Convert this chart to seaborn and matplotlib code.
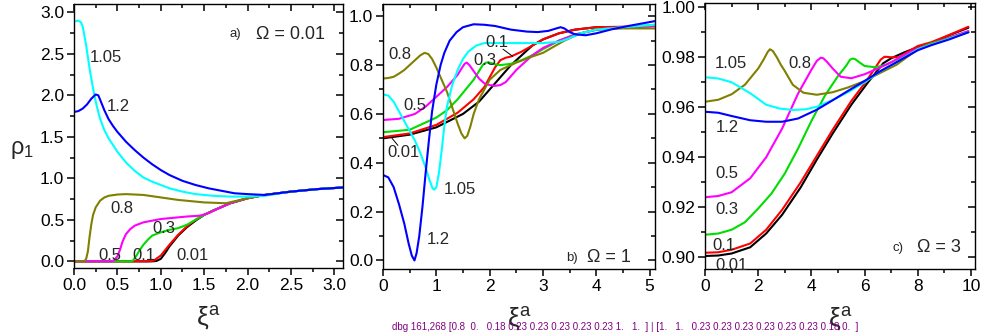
import numpy as np
import pandas as pd
import matplotlib
matplotlib.use("Agg")
import matplotlib.pyplot as plt
import matplotlib.ticker as mticker
import matplotlib.lines as mlines
import seaborn as sns

# curve order and colours (same in every panel)
curve_names = ['0.01', '0.1', '0.3', '0.5', '0.8', '1.05', '1.2']
curve_colors = ['#000000', '#ff0000', '#00dd00', '#ff00ff', '#808000', '#00ffff', '#0000ff']

# ---- panel a) Omega = 0.01 ----
a_x_001 = [0, 0.9, 0.95, 1.0, 1.05, 1.1, 1.2, 1.3, 1.4, 1.5, 1.6, 1.8, 2.0, 2.2, 2.5, 2.8, 3.1]
a_y_001 = [0, 0, 0.005, 0.03, 0.1, 0.18, 0.31, 0.41, 0.49, 0.56, 0.61, 0.70, 0.76, 0.80, 0.84, 0.87, 0.89]
a_x_01 = [0, 0.86, 0.92, 1.0, 1.1, 1.2, 1.3, 1.4, 1.5, 1.6, 1.8, 2.0, 2.2, 2.5, 2.8, 3.1]
a_y_01 = [0, 0, 0.01, 0.07, 0.2, 0.32, 0.42, 0.50, 0.56, 0.61, 0.70, 0.76, 0.80, 0.84, 0.87, 0.89]
a_x_03 = [0, 0.65, 0.68, 0.72, 0.76, 0.8, 0.85, 0.9, 1.0, 1.1, 1.2, 1.3, 1.4, 1.5, 1.6, 1.8, 2.0, 2.2, 2.5, 2.8, 3.1]
a_y_03 = [0, 0, 0.01, 0.07, 0.14, 0.2, 0.26, 0.31, 0.35, 0.38, 0.40, 0.44, 0.50, 0.56, 0.61, 0.70, 0.76, 0.80, 0.84, 0.87, 0.89]
a_x_05 = [0, 0.42, 0.46, 0.5, 0.53, 0.56, 0.6, 0.65, 0.7, 0.8, 0.9, 1.0, 1.1, 1.3, 1.45, 1.55, 1.65, 1.8, 2.0, 2.2, 2.5, 2.8, 3.1]
a_y_05 = [0, 0, 0.01, 0.06, 0.14, 0.24, 0.33, 0.39, 0.43, 0.47, 0.49, 0.51, 0.52, 0.54, 0.55, 0.58, 0.63, 0.70, 0.76, 0.80, 0.84, 0.87, 0.89]
a_x_08 = [0, 0.12, 0.14, 0.16, 0.18, 0.2, 0.22, 0.25, 0.3, 0.35, 0.4, 0.5, 0.6, 0.7, 0.8, 1.0, 1.2, 1.5, 1.75, 2.0, 2.2, 2.5, 2.8, 3.1]
a_y_08 = [0, 0, 0.03, 0.12, 0.3, 0.45, 0.56, 0.65, 0.73, 0.77, 0.79, 0.805, 0.81, 0.805, 0.80, 0.77, 0.74, 0.71, 0.70, 0.76, 0.80, 0.84, 0.87, 0.89]
a_x_105 = [0, 0.05, 0.08, 0.1, 0.12, 0.14, 0.16, 0.18, 0.2, 0.22, 0.24, 0.26, 0.3, 0.35, 0.4, 0.5, 0.6, 0.7, 0.8, 0.9,
           1.0, 1.1, 1.25, 1.4, 1.6, 1.8, 2.0, 2.2, 2.5, 2.8, 3.1]
a_y_105 = [2.89, 2.9, 2.88, 2.83, 2.72, 2.6, 2.46, 2.32, 2.2, 2.08, 1.98, 1.88, 1.72, 1.58, 1.48, 1.32, 1.19, 1.09, 1.01, 0.96,
           0.92, 0.88, 0.84, 0.81, 0.79, 0.78, 0.78, 0.79, 0.84, 0.87, 0.89]
a_x_12 = [0, 0.05, 0.1, 0.15, 0.2, 0.25, 0.28, 0.3, 0.35, 0.4, 0.45, 0.5, 0.6, 0.7, 0.8, 0.9, 1.0, 1.1, 1.25, 1.4, 1.55,
          1.7, 1.85, 2.0, 2.2, 2.5, 2.8, 3.1]
a_y_12 = [1.80, 1.81, 1.84, 1.89, 1.96, 2.01, 2.0, 1.95, 1.82, 1.71, 1.63, 1.56, 1.44, 1.34, 1.25, 1.17, 1.10, 1.04, 0.97, 0.92, 0.88,
          0.85, 0.82, 0.81, 0.80, 0.84, 0.87, 0.89]

# ---- panel b) Omega = 1 ----
b_x_001 = [0, 0.5, 1.0, 1.5, 1.8, 2.0, 2.2, 2.4, 2.6, 2.8, 3.0, 3.3, 3.6, 4.0, 4.5, 5.1]
b_y_001 = [0.50, 0.515, 0.545, 0.60, 0.65, 0.70, 0.75, 0.80, 0.84, 0.88, 0.905, 0.93, 0.945, 0.955, 0.955, 0.96]
b_x_01 = [0, 0.5, 1.0, 1.4, 1.7, 1.9, 2.0, 2.1, 2.2, 2.3, 2.4, 2.6, 2.8, 3.0, 3.3, 3.6, 4.0, 4.5, 5.1]
b_y_01 = [0.505, 0.52, 0.555, 0.605, 0.66, 0.71, 0.75, 0.79, 0.82, 0.83, 0.835, 0.855, 0.88, 0.905, 0.93, 0.945, 0.955, 0.957, 0.96]
b_x_03 = [0, 0.5, 1.0, 1.2, 1.4, 1.55, 1.7, 1.8, 1.87, 1.93, 2.0, 2.1, 2.2, 2.4, 2.6, 2.8, 3.0, 3.3, 3.6, 4.0, 4.5, 5.1]
b_y_03 = [0.525, 0.535, 0.585, 0.615, 0.66, 0.70, 0.74, 0.775, 0.80, 0.81, 0.81, 0.803, 0.80, 0.805, 0.82, 0.84, 0.865, 0.90, 0.925, 0.945, 0.955, 0.965]
b_x_05 = [0, 0.3, 0.6, 0.8, 1.0, 1.2, 1.3, 1.4, 1.47, 1.53, 1.57, 1.62, 1.7, 1.8, 1.9, 2.0, 2.1, 2.2, 2.3, 2.4, 2.5, 2.6,
          2.8, 3.0, 3.3, 3.6, 4.0, 4.5, 5.1]
b_y_05 = [0.575, 0.58, 0.60, 0.63, 0.67, 0.71, 0.735, 0.76, 0.785, 0.805, 0.81, 0.80, 0.775, 0.745, 0.725, 0.718, 0.715, 0.718,
          0.73, 0.755, 0.78, 0.80, 0.84, 0.87, 0.90, 0.925, 0.945, 0.955, 0.96]
b_x_08 = [0, 0.1, 0.2, 0.3, 0.4, 0.5, 0.6, 0.7, 0.78, 0.85, 0.92, 1.0, 1.1, 1.2, 1.3, 1.4, 1.47, 1.53, 1.58, 1.64, 1.7,
          1.8, 1.9, 2.0, 2.2, 2.5, 2.8, 3.0, 3.2, 3.4, 3.6, 3.8, 4.0, 4.5, 5.1]
b_y_08 = [0.745, 0.747, 0.752, 0.765, 0.78, 0.80, 0.82, 0.84, 0.85, 0.845, 0.825, 0.79, 0.74, 0.69, 0.625, 0.56, 0.52, 0.50,
          0.51, 0.55, 0.60, 0.66, 0.70, 0.74, 0.78, 0.81, 0.835, 0.85, 0.875, 0.90, 0.92, 0.935, 0.945, 0.95, 0.95]
b_x_105 = [0, 0.1, 0.2, 0.3, 0.4, 0.5, 0.6, 0.7, 0.8, 0.87, 0.93, 0.96, 1.0, 1.05, 1.1, 1.15, 1.2, 1.3, 1.4, 1.5, 1.6,
           1.75, 1.9, 2.2, 2.6, 3.0, 3.3, 3.5, 3.7, 4.0, 4.5, 5.1]
b_y_105 = [0.68, 0.675, 0.65, 0.61, 0.57, 0.53, 0.49, 0.44, 0.38, 0.33, 0.295, 0.29, 0.30, 0.36, 0.45, 0.55, 0.63, 0.72,
           0.78, 0.825, 0.855, 0.88, 0.89, 0.89, 0.89, 0.89, 0.895, 0.91, 0.93, 0.945, 0.955, 0.965]
b_x_12 = [0, 0.1, 0.2, 0.3, 0.4, 0.48, 0.54, 0.59, 0.63, 0.68, 0.74, 0.8, 0.86, 0.92, 1.0, 1.08, 1.15, 1.25, 1.38, 1.5,
          1.7, 1.9, 2.1, 2.4, 2.7, 2.9, 3.1, 3.25, 3.33, 3.4, 3.5, 3.6, 3.8, 4.0, 4.3, 4.6, 5.1]
b_y_12 = [0.35, 0.34, 0.30, 0.23, 0.15, 0.07, 0.02, 0.0, 0.03, 0.10, 0.22, 0.36, 0.49, 0.61, 0.72, 0.80, 0.85, 0.90, 0.935,
          0.955, 0.967, 0.965, 0.96, 0.945, 0.937, 0.935, 0.94, 0.95, 0.955, 0.95, 0.935, 0.926, 0.922, 0.93, 0.947, 0.96, 0.98]

# ---- panel c) Omega = 3 ----
c_x_001 = [0, 0.5, 1.0, 1.7, 2.3, 2.9, 3.6, 4.2, 4.8, 5.5, 6.1, 6.7, 7.0, 7.5, 8, 8.5, 9.2, 9.9]
c_y_001 = [0.9005, 0.9007, 0.9015, 0.904, 0.9095, 0.917, 0.928, 0.939, 0.9495, 0.961, 0.9696, 0.9776, 0.9796, 0.982, 0.984, 0.9855, 0.9889, 0.9918]
c_x_01 = [0, 0.5, 1.0, 1.7, 2.3, 2.9, 3.6, 4.2, 4.8, 5.5, 6.1, 6.6, 6.75, 7.0, 7.3, 7.6, 8, 8.5, 9.2, 9.9]
c_y_01 = [0.9018, 0.902, 0.903, 0.9055, 0.911, 0.919, 0.930, 0.9405, 0.951, 0.9625, 0.971, 0.979, 0.9802, 0.980, 0.980, 0.982, 0.9845, 0.986, 0.989, 0.9922]
c_x_03 = [0, 0.5, 1.0, 1.5, 2.0, 2.5, 3.0, 3.5, 4.0, 4.5, 5.0, 5.3, 5.45, 5.55, 5.65, 5.8, 6.0, 6.4, 6.8, 7.2, 7.6, 8, 8.5, 9.2, 9.9]
c_y_03 = [0.909, 0.9095, 0.911, 0.914, 0.9195, 0.9255, 0.9335, 0.9435, 0.9545, 0.9645, 0.9725, 0.9765, 0.979, 0.9795, 0.9792,
          0.978, 0.9765, 0.976, 0.977, 0.979, 0.981, 0.9835, 0.9855, 0.9878, 0.990]
c_x_05 = [0, 0.5, 1.0, 1.7, 2.3, 2.9, 3.5, 4.0, 4.2, 4.35, 4.45, 4.6, 4.8, 5.1, 5.5, 6.0, 6.5, 7.0, 7.5, 8, 8.5, 9.2, 9.9]
c_y_05 = [0.924, 0.9245, 0.926, 0.9316, 0.940, 0.9515, 0.9655, 0.975, 0.9785, 0.9798, 0.9796, 0.978, 0.9755, 0.9722, 0.9716,
          0.9732, 0.9755, 0.978, 0.981, 0.9835, 0.985, 0.988, 0.9905]
c_x_08 = [0, 0.5, 1.0, 1.5, 2.0, 2.2, 2.35, 2.44, 2.55, 2.7, 2.85, 3.0, 3.3, 3.7, 4.2, 4.8, 5.4, 6.0, 6.6, 7.2, 8, 8.5, 9.2, 9.9]
c_y_08 = [0.9622, 0.963, 0.9652, 0.969, 0.9755, 0.979, 0.982, 0.9832, 0.9825, 0.980, 0.977, 0.9745, 0.969, 0.9658, 0.965,
          0.966, 0.968, 0.9705, 0.9738, 0.977, 0.9832, 0.985, 0.9878, 0.990]
c_x_105 = [0, 0.5, 1.0, 1.7, 2.3, 2.8, 3.3, 3.8, 4.2, 4.8, 5.4, 6.0, 6.6, 7.2, 8, 8.5, 9.2, 9.9]
c_y_105 = [0.972, 0.9715, 0.970, 0.9656, 0.961, 0.9595, 0.9589, 0.9592, 0.9602, 0.9629, 0.9662, 0.970, 0.9745, 0.978, 0.9832, 0.985, 0.9875, 0.990]
c_x_12 = [0, 0.5, 1.0, 1.7, 2.3, 2.9, 3.5, 4.2, 4.8, 5.4, 6.0, 6.6, 7.2, 8, 8.5, 9.2, 9.9]
c_y_12 = [0.9582, 0.9578, 0.9565, 0.9548, 0.9542, 0.9542, 0.9555, 0.959, 0.9628, 0.9667, 0.9705, 0.9745, 0.978, 0.9828, 0.9848, 0.9872, 0.990]

# curve labels: (text, x, y) in data units
a_labels = [('1.05', 0.37, 2.46), ('1.2', 0.51, 1.86), ('0.8', 0.55, 0.64), ('0.3', 1.03, 0.39),
            ('0.5', 0.41, 0.07), ('0.1', 0.80, 0.07), ('0.01', 1.36, 0.07)]
b_labels = [('0.8', 0.32, 0.845), ('0.5', 0.60, 0.635), ('0.01', 0.39, 0.443), ('1.05', 1.44, 0.29),
            ('1.2', 1.03, 0.086), ('0.3', 1.91, 0.82), ('0.1', 2.13, 0.893)]
c_labels = [('1.05', 0.98, 0.9777), ('0.8', 3.57, 0.9777), ('1.2', 0.83, 0.9521), ('0.5', 0.83, 0.9337),
            ('0.3', 0.83, 0.9193), ('0.1', 0.71, 0.9049), ('0.01', 0.98, 0.8969)]


def make_frame(xs, ys):
    rows = []
    for name, x, y in zip(curve_names, xs, ys):
        rows.append(pd.DataFrame({'xi': x, 'rho': y, 'curve': name}))
    return pd.concat(rows, ignore_index=True)


def style_axis(ax, xlim, ylim, xmaj, xmin, ymaj, ymin, xfmt, yfmt):
    ax.set_xlim(*xlim)
    ax.set_ylim(*ylim)
    ax.xaxis.set_major_locator(mticker.MultipleLocator(xmaj))
    ax.xaxis.set_minor_locator(mticker.MultipleLocator(xmin))
    ax.yaxis.set_major_locator(mticker.MultipleLocator(ymaj))
    ax.yaxis.set_minor_locator(mticker.MultipleLocator(ymin))
    ax.xaxis.set_major_formatter(mticker.FormatStrFormatter(xfmt))
    ax.yaxis.set_major_formatter(mticker.FormatStrFormatter(yfmt))
    for s in ax.spines.values():
        s.set_visible(True)
        s.set_linewidth(1.0)
        s.set_color('black')
    ax.set_xlabel('ξ$^{\\mathregular{a}}$', fontsize=19, labelpad=8)
    ax.set_ylabel('')


def set_ticks(ax):
    ax.tick_params(which='major', direction='out', length=5, width=1.1, pad=2,
                   top=True, right=True, colors='black')
    ax.tick_params(which='minor', direction='out', length=3, width=1.1,
                   top=True, right=True, colors='black')


def flip_far_ticks(ax):
    # bottom/left ticks point out, top/right ticks point in
    for t in ax.xaxis.get_major_ticks() + ax.xaxis.get_minor_ticks():
        t.tick2line.set_marker(mlines.TICKDOWN)
    for t in ax.yaxis.get_major_ticks() + ax.yaxis.get_minor_ticks():
        t.tick2line.set_marker(mlines.TICKLEFT)


sns.set_style('ticks')
plt.rcParams['font.family'] = ['Liberation Sans', 'DejaVu Sans']
plt.rcParams['mathtext.fontset'] = 'custom'
plt.rcParams['mathtext.rm'] = 'Liberation Sans'
plt.rcParams['mathtext.it'] = 'Liberation Sans'
plt.rcParams['xtick.labelsize'] = 12.5
plt.rcParams['ytick.labelsize'] = 12.5

palette = dict(zip(curve_names, curve_colors))

fig = plt.figure(figsize=(9.81, 3.32), dpi=100)
ax_a = fig.add_axes([74 / 981, 1 - 268 / 332, 269 / 981, 264 / 332])
ax_b = fig.add_axes([383 / 981, 1 - 269 / 332, 272 / 981, 265 / 332])
ax_c = fig.add_axes([705 / 981, 1 - 269 / 332, 270 / 981, 266 / 332])

df_a = make_frame([a_x_001, a_x_01, a_x_03, a_x_05, a_x_08, a_x_105, a_x_12],
                  [a_y_001, a_y_01, a_y_03, a_y_05, a_y_08, a_y_105, a_y_12])
df_b = make_frame([b_x_001, b_x_01, b_x_03, b_x_05, b_x_08, b_x_105, b_x_12],
                  [b_y_001, b_y_01, b_y_03, b_y_05, b_y_08, b_y_105, b_y_12])
df_c = make_frame([c_x_001, c_x_01, c_x_03, c_x_05, c_x_08, c_x_105, c_x_12],
                  [c_y_001, c_y_01, c_y_03, c_y_05, c_y_08, c_y_105, c_y_12])

for ax, df, labels in [(ax_a, df_a, a_labels), (ax_b, df_b, b_labels), (ax_c, df_c, c_labels)]:
    sns.lineplot(data=df, x='xi', y='rho', hue='curve', palette=palette, estimator=None,
                 sort=False, legend=False, linewidth=1.5, ax=ax)
    for txt, lx, ly in labels:
        ax.text(lx, ly, txt, fontsize=12, ha='center', va='center')

style_axis(ax_a, (0, 3.1), (-0.08, 3.1), 0.5, 0.25, 0.5, 0.25, '%.1f', '%.1f')
style_axis(ax_b, (0, 5.1), (-0.035, 1.05), 1, 0.5, 0.2, 0.1, '%d', '%.1f')
style_axis(ax_c, (0, 10.15), (0.8953, 1.0017), 2, 1, 0.02, 0.01, '%d', '%.2f')

# leader lines in panel b
ax_b.plot([0.28, 0.17], [0.471, 0.50], color='black', lw=0.7)
ax_b.plot([2.25, 2.43], [0.865, 0.836], color='black', lw=0.7)

# panel titles
ax_a.text(0.60, 0.886, 'a)', transform=ax_a.transAxes, fontsize=9.5, ha='center', va='center')
ax_a.text(0.677, 0.886, 'Ω = 0.01', transform=ax_a.transAxes, fontsize=13, ha='left', va='center')
ax_b.text(0.695, 0.042, 'b)', transform=ax_b.transAxes, fontsize=9.5, ha='center', va='center')
ax_b.text(0.75, 0.042, 'Ω = 1', transform=ax_b.transAxes, fontsize=13, ha='left', va='center')
ax_c.text(0.715, 0.079, 'c)', transform=ax_c.transAxes, fontsize=9.5, ha='center', va='center')
ax_c.text(0.785, 0.079, 'Ω = 3', transform=ax_c.transAxes, fontsize=13, ha='left', va='center')

fig.text(22 / 981, 1 - 150 / 332, 'ρ$_{\\mathregular{1}}$', fontsize=17, ha='center', va='center')

for ax in (ax_a, ax_b, ax_c):
    set_ticks(ax)

fig.canvas.draw()
for ax in (ax_a, ax_b, ax_c):
    flip_far_ticks(ax)

fig.savefig('out.png', dpi=100)

# temporary check: how dark are the pixels just below the bottom spine at x = 1.0 in panel a
img = plt.imread('out.png')
H = img.shape[0]
xd, yd = ax_a.transData.transform((1.0, -0.08))
col, row = int(round(xd)), int(round(H - yd))
below = img[row - 1:row + 9, col - 1:col + 2, :3].mean(axis=2).min(axis=1)
xd2, yd2 = ax_a.transData.transform((0.0, 1.0))
c2, r2 = int(round(xd2)), int(round(H - yd2))
left = img[r2 - 1:r2 + 2, c2 - 9:c2 + 1, :3].mean(axis=2).min(axis=0)
fig.text(0.40, 0.005, 'dbg %d,%d %s | %s' % (col, row, np.round(below, 2), np.round(left, 2)),
         fontsize=7, color='purple')
fig.savefig('out.png', dpi=100)
